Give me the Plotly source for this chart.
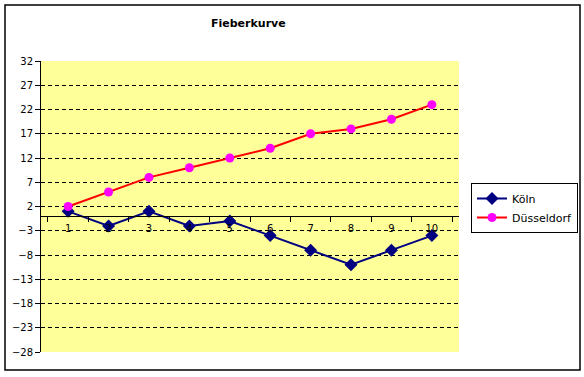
import plotly.graph_objects as go

categories = ["1", "2", "3", "4", "5", "6", "7", "8", "9", "10"]
koeln = [1, -2, 1, -2, -1, -4, -7, -10, -7, -4]
duesseldorf = [2, 5, 8, 10, 12, 14, 17, 18, 20, 23]
y_ticks = [-28, -23, -18, -13, -8, -3, 2, 7, 12, 17, 22, 27, 32]

W, H = 584, 377
L, R, T, B = 41, 459, 61, 352
ymin, ymax = -28, 32

def px(x):
    return (x - L) / (R - L)

def py(y):
    return (B - y) / (B - T)

fig = go.Figure()
fig.add_trace(go.Scatter(
    x=categories, y=koeln, name="Köln", mode="lines+markers",
    line=dict(color="#000080", width=2),
    marker=dict(symbol="diamond", size=10, color="#000080"),
))
fig.add_trace(go.Scatter(
    x=categories, y=duesseldorf, name="Düsseldorf", mode="lines+markers",
    line=dict(color="#FF0000", width=2),
    marker=dict(symbol="circle", size=9, color="#FF00FF"),
))

font = "DejaVu Sans"
fig.update_layout(
    width=W, height=H,
    margin=dict(l=L, r=W - R, t=T, b=H - B, pad=0, autoexpand=False),
    paper_bgcolor="white",
    plot_bgcolor="#FFFF99",
    font=dict(family=font, size=10, color="black"),
    showlegend=True,
    legend=dict(
        x=px(471), y=py(183), xanchor="left", yanchor="top",
        bordercolor="black", borderwidth=1, bgcolor="white",
        font=dict(family=font, size=11, color="black"),
        itemwidth=30, tracegroupgap=2,
    ),
    xaxis=dict(
        type="category", anchor="free",
        position=(0 - ymin) / (ymax - ymin),
        showline=True, linecolor="black", linewidth=1,
        ticks="outside", tickson="boundaries", ticklen=5, tickcolor="black",
        showgrid=False, zeroline=False, automargin=False,
        ticklabelstandoff=3,
        tickfont=dict(family=font, size=10),
        fixedrange=True,
    ),
    yaxis=dict(
        range=[ymin, ymax], tickvals=y_ticks,
        showline=True, linecolor="black", linewidth=1,
        ticks="outside", ticklen=5, tickcolor="black",
        showgrid=True, gridcolor="black", griddash="4px,3px", gridwidth=1,
        zeroline=False, automargin=False,
        tickfont=dict(family=font, size=10),
    ),
    annotations=[dict(
        text="<b>Fieberkurve</b>", xref="paper", yref="paper",
        x=px(248), y=py(23), xanchor="center", yanchor="middle",
        showarrow=False, font=dict(family=font, size=11, color="black"),
    )],
    shapes=[dict(
        type="rect", xref="paper", yref="paper",
        x0=px(5), x1=px(580), y0=py(370), y1=py(5),
        line=dict(color="black", width=1.5), fillcolor="rgba(0,0,0,0)",
        layer="below",
    )],
)

fig.write_html(
    "out.html",
    config={"displayModeBar": False},
    post_script="document.body.style.margin='0px';document.body.style.overflow='hidden';",
)
